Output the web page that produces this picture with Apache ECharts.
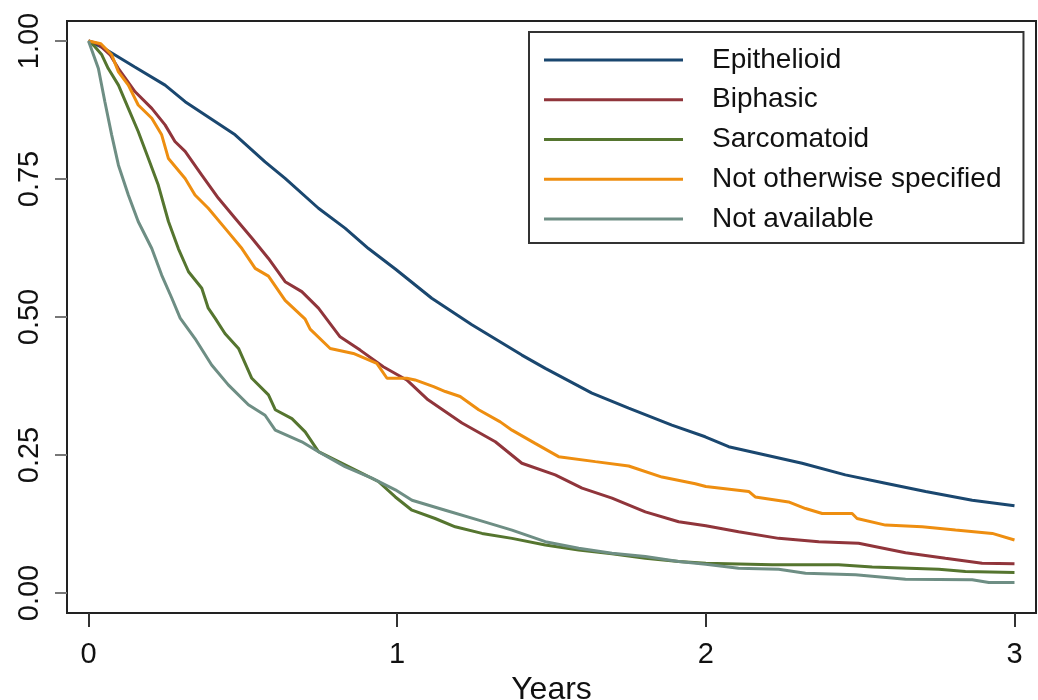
<!DOCTYPE html>
<html><head><meta charset="utf-8">
<script src="https://cdn.jsdelivr.net/npm/echarts@6/dist/echarts.min.js"></script>
<style>html,body{margin:0;padding:0;background:#fff}#c{width:1038px;height:700px}</style>
</head><body><div id="c"></div>
<script>
const seriesNames = ['Epithelioid','Biphasic','Sarcomatoid','Not otherwise specified','Not available'];
const seriesColors = ['#1a476f','#90353b','#55752f','#ee8e10','#6e8e84'];
const xTicks = [0,1,2,3];
const yTicks = [0,0.25,0.5,0.75,1];
const yTickLabels = ['0.00','0.25','0.50','0.75','1.00'];
const epithelioid = [[0,1],[0.05,0.987],[0.15,0.953],[0.248,0.92],[0.313,0.89],[0.394,0.86],[0.475,0.83],[0.572,0.781],[0.637,0.751],[0.745,0.697],[0.831,0.661],[0.907,0.624],[0.994,0.587],[1.112,0.534],[1.242,0.486],[1.404,0.431],[1.48,0.407],[1.631,0.362],[1.75,0.335],[1.89,0.304],[1.998,0.283],[2.074,0.265],[2.193,0.25],[2.312,0.235],[2.452,0.214],[2.582,0.199],[2.712,0.184],[2.863,0.168],[3,0.158]];
const biphasic = [[0,1],[0.03,0.995],[0.07,0.975],[0.097,0.95],[0.151,0.908],[0.205,0.878],[0.248,0.848],[0.28,0.818],[0.313,0.8],[0.367,0.757],[0.421,0.715],[0.475,0.679],[0.529,0.643],[0.583,0.606],[0.637,0.564],[0.691,0.546],[0.745,0.516],[0.815,0.464],[0.88,0.44],[0.955,0.41],[1.031,0.386],[1.1,0.35],[1.21,0.308],[1.318,0.274],[1.404,0.235],[1.512,0.214],[1.599,0.19],[1.696,0.172],[1.804,0.147],[1.912,0.129],[2.0,0.122],[2.106,0.111],[2.236,0.099],[2.366,0.093],[2.495,0.09],[2.647,0.073],[2.776,0.063],[2.895,0.054],[3,0.053]];
const sarcomatoid = [[0,1],[0.02,0.99],[0.043,0.975],[0.064,0.95],[0.097,0.92],[0.129,0.878],[0.161,0.836],[0.194,0.787],[0.226,0.739],[0.259,0.673],[0.291,0.624],[0.324,0.582],[0.367,0.552],[0.388,0.516],[0.41,0.498],[0.442,0.47],[0.486,0.443],[0.529,0.389],[0.583,0.359],[0.605,0.332],[0.659,0.316],[0.702,0.292],[0.745,0.256],[0.81,0.238],[0.875,0.22],[0.939,0.202],[0.994,0.174],[1.048,0.15],[1.123,0.135],[1.188,0.12],[1.275,0.108],[1.372,0.099],[1.48,0.087],[1.588,0.078],[1.696,0.071],[1.804,0.063],[1.912,0.057],[2.0,0.054],[2.215,0.051],[2.43,0.051],[2.539,0.047],[2.755,0.043],[2.841,0.039],[3,0.037]];
const notSpecified = [[0,1],[0.04,0.995],[0.075,0.975],[0.097,0.944],[0.129,0.92],[0.161,0.884],[0.205,0.86],[0.237,0.83],[0.259,0.787],[0.313,0.751],[0.345,0.721],[0.388,0.697],[0.442,0.661],[0.497,0.624],[0.54,0.588],[0.583,0.574],[0.637,0.53],[0.702,0.496],[0.718,0.478],[0.783,0.443],[0.858,0.434],[0.934,0.416],[0.967,0.389],[1.031,0.389],[1.058,0.386],[1.118,0.374],[1.156,0.365],[1.204,0.356],[1.264,0.332],[1.334,0.31],[1.372,0.295],[1.447,0.271],[1.523,0.247],[1.642,0.238],[1.75,0.23],[1.858,0.21],[1.966,0.198],[2.0,0.193],[2.139,0.184],[2.16,0.174],[2.268,0.165],[2.323,0.153],[2.377,0.144],[2.474,0.144],[2.49,0.135],[2.582,0.123],[2.701,0.12],[2.809,0.114],[2.928,0.108],[3,0.096]];
const notAvailable = [[0,1],[0.032,0.95],[0.053,0.89],[0.075,0.83],[0.097,0.775],[0.129,0.721],[0.161,0.673],[0.205,0.624],[0.237,0.576],[0.27,0.534],[0.297,0.498],[0.345,0.461],[0.399,0.413],[0.453,0.377],[0.518,0.341],[0.572,0.322],[0.605,0.295],[0.691,0.274],[0.745,0.256],[0.831,0.229],[0.918,0.208],[0.994,0.187],[1.048,0.168],[1.156,0.15],[1.264,0.132],[1.372,0.114],[1.48,0.093],[1.588,0.081],[1.696,0.072],[1.804,0.066],[1.912,0.057],[2.0,0.052],[2.106,0.045],[2.236,0.043],[2.323,0.036],[2.485,0.033],[2.647,0.025],[2.863,0.024],[2.917,0.019],[3,0.019]];
const allData = [epithelioid, biphasic, sarcomatoid, notSpecified, notAvailable];

const FONT = "'Liberation Sans', Arial, sans-serif";
const chart = echarts.init(document.getElementById('c'), null, {renderer:'canvas'});
chart.setOption({
  animation:false,
  backgroundColor:'#fff',
  grid:{left:67,right:2,top:21,bottom:87,show:true,borderColor:'#222',borderWidth:2,containLabel:false,outerBoundsMode:'none'},
  xAxis:{type:'value',min:-0.0697,max:3.0697,
    name:'Years',nameLocation:'middle',nameGap:57,
    nameTextStyle:{fontFamily:FONT,fontSize:32,color:'#111'},
    axisLine:{show:false,onZero:false},splitLine:{show:false},
    axisTick:{show:true,length:14,lineStyle:{color:'#333',width:2},customValues:xTicks},
    axisLabel:{margin:27,fontFamily:FONT,fontSize:29,color:'#111',customValues:xTicks,formatter:v=>String(Math.round(v))}
  },
  yAxis:{type:'value',min:-0.0362,max:1.0362,
    axisLine:{show:false,onZero:false},splitLine:{show:false},
    axisTick:{show:true,length:12,lineStyle:{color:'#777',width:2},customValues:yTicks},
    axisLabel:{margin:23,rotate:90,fontFamily:FONT,fontSize:29,color:'#111',customValues:yTicks,
      formatter:v=>{const i=yTicks.findIndex(t=>Math.abs(t-v)<1e-6);return i>=0?yTickLabels[i]:'';}}
  },
  legend:{orient:'vertical',left:529,top:32,icon:'rect',itemWidth:139,itemHeight:3,itemGap:9.75,
    padding:[13,22,9,15],borderColor:'#333',borderWidth:2,backgroundColor:'#fff',
    textStyle:{fontFamily:FONT,fontSize:28,color:'#111',lineHeight:30,padding:[0,0,0,24]},
    data:seriesNames},
  series:seriesNames.map((n,i)=>({name:n,type:'line',data:allData[i],symbol:'none',
    lineStyle:{width:3,color:seriesColors[i]},itemStyle:{color:seriesColors[i]},z:2+i}))
});
</script></body></html>
